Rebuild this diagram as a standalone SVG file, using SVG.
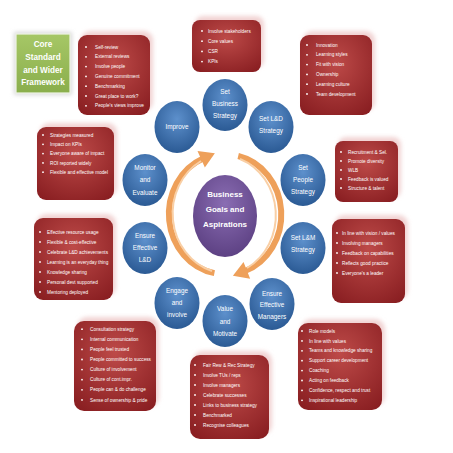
<svg xmlns="http://www.w3.org/2000/svg" width="453" height="453" viewBox="0 0 453 453">
<defs>
<radialGradient id="redG" cx="50%" cy="35%" r="75%">
<stop offset="0" stop-color="#bd4a48"/>
<stop offset="1" stop-color="#8a1f22"/>
</radialGradient>
<radialGradient id="blueG" cx="50%" cy="35%" r="70%">
<stop offset="0" stop-color="#5d90cc"/>
<stop offset="1" stop-color="#275690"/>
</radialGradient>
<radialGradient id="purpG" cx="50%" cy="35%" r="70%">
<stop offset="0" stop-color="#8a6db3"/>
<stop offset="1" stop-color="#5a3e80"/>
</radialGradient>
<linearGradient id="greenG" x1="0" y1="0" x2="0" y2="1">
<stop offset="0" stop-color="#a6c766"/>
<stop offset="1" stop-color="#8aae4c"/>
</linearGradient>
<filter id="blur" x="-20%" y="-20%" width="140%" height="140%">
<feGaussianBlur stdDeviation="2"/>
</filter>
<marker id="head" markerUnits="userSpaceOnUse" markerWidth="18" markerHeight="20" viewBox="-1 -10 18 20" refX="2" refY="0" orient="auto">
<path d="M0,-9 L15,0 L0,9 Z" fill="#eea05a"/>
</marker>
</defs>
<style>
.glow{fill:#f1d3d3;filter:url(#blur);}
.box{fill:url(#redG);}
.bt{font-family:'Liberation Sans',Arial,sans-serif;font-size:4.7px;fill:#ffffff;}
.bl{fill:#ffffff;}
.node{fill:url(#blueG);}
.nt{font-family:'Liberation Sans',Arial,sans-serif;font-size:6.4px;fill:#ffffff;text-anchor:middle;}
.ct{font-family:'Liberation Sans',Arial,sans-serif;font-size:8px;font-weight:bold;fill:#ffffff;text-anchor:middle;}
.gt{font-family:'Liberation Sans',Arial,sans-serif;font-size:8.2px;font-weight:bold;fill:#ffffff;text-anchor:middle;}
.arc{fill:none;stroke:#eea05a;stroke-width:6;}
.arcHi{fill:none;stroke:#f9cfa5;stroke-width:2;}
</style>

<rect width="453" height="453" fill="#ffffff"/>

<g id="title">
<rect x="14" y="32" width="58" height="63" fill="#d9d9d9" filter="url(#blur)"/>
<rect x="16" y="34" width="54" height="59" fill="url(#greenG)" stroke="#eef3e4" stroke-width="1.2"/>
<text class="gt" x="43" y="47">Core</text>
<text class="gt" x="43" y="60">Standard</text>
<text class="gt" x="43" y="72.5">and Wider</text>
<text class="gt" x="43" y="85">Framework</text>
</g>

<g id="connectors">
<path class="arc" d="M214.4,273.1 A55,60 0 0 1 203,158.5" marker-end="url(#head)"/>
<path class="arcHi" d="M212,271 A55,60 0 0 1 201,161"/>
<path class="arc" d="M238.2,156 A55,60 0 0 1 245,271" marker-end="url(#head)"/>
<path class="arcHi" d="M240,159 A55,60 0 0 1 247,268"/>
</g>

<g id="n-center">
<ellipse cx="225" cy="216" rx="32" ry="41" fill="url(#purpG)"/>
<text class="ct" x="225" y="197">Business</text>
<text class="ct" x="225" y="212">Goals and</text>
<text class="ct" x="225" y="227">Aspirations</text>
</g>

<g id="n-setbusiness">
<ellipse class="node" cx="225" cy="105" rx="22.5" ry="26"/>
<text class="nt" x="225" y="94">Set</text>
<text class="nt" x="225" y="106">Business</text>
<text class="nt" x="225" y="118">Strategy</text>
</g>
<g id="n-setld">
<ellipse class="node" cx="271" cy="127" rx="22.5" ry="26"/>
<text class="nt" x="271" y="121">Set L&amp;D</text>
<text class="nt" x="271" y="133">Strategy</text>
</g>
<g id="n-improve">
<ellipse class="node" cx="177" cy="127" rx="22.5" ry="26"/>
<text class="nt" x="177" y="129">Improve</text>
</g>
<g id="n-monitor">
<ellipse class="node" cx="145" cy="180" rx="22.5" ry="26"/>
<text class="nt" x="145" y="170">Monitor</text>
<text class="nt" x="145" y="182">and</text>
<text class="nt" x="145" y="195">Evaluate</text>
</g>
<g id="n-setpeople">
<ellipse class="node" cx="303" cy="180" rx="22.5" ry="26"/>
<text class="nt" x="303" y="170">Set</text>
<text class="nt" x="303" y="182">People</text>
<text class="nt" x="303" y="194">Strategy</text>
</g>
<g id="n-ensureld">
<ellipse class="node" cx="145" cy="248" rx="22.5" ry="26"/>
<text class="nt" x="145" y="238">Ensure</text>
<text class="nt" x="145" y="250">Effective</text>
<text class="nt" x="145" y="262">L&amp;D</text>
</g>
<g id="n-setlm">
<ellipse class="node" cx="303" cy="248" rx="22.5" ry="26"/>
<text class="nt" x="303" y="240">Set L&amp;M</text>
<text class="nt" x="303" y="252">Strategy</text>
</g>
<g id="n-engage">
<ellipse class="node" cx="177" cy="303" rx="22.5" ry="26"/>
<text class="nt" x="177" y="293">Engage</text>
<text class="nt" x="177" y="305">and</text>
<text class="nt" x="177" y="317">involve</text>
</g>
<g id="n-value">
<ellipse class="node" cx="225" cy="321" rx="22.5" ry="26"/>
<text class="nt" x="225" y="311">Value</text>
<text class="nt" x="225" y="324">and</text>
<text class="nt" x="225" y="336">Motivate</text>
</g>
<g id="n-managers">
<ellipse class="node" cx="272" cy="304" rx="22.5" ry="26"/>
<text class="nt" x="272" y="296">Ensure</text>
<text class="nt" x="272" y="307">Effective</text>
<text class="nt" x="272" y="319">Managers</text>
</g>

<g id="b-review">
<rect class="glow" x="81" y="31" width="72" height="80" rx="9"/>
<rect class="box" x="78" y="35" width="72" height="80" rx="9"/>
<circle class="bl" cx="86" cy="47" r="0.9"/><text class="bt" x="95" y="48.6">Self-review</text>
<circle class="bl" cx="86" cy="56.8" r="0.9"/><text class="bt" x="95" y="58.4">External reviews</text>
<circle class="bl" cx="86" cy="66.6" r="0.9"/><text class="bt" x="95" y="68.2">Involve people</text>
<circle class="bl" cx="86" cy="76.4" r="0.9"/><text class="bt" x="95" y="78">Genuine commitment</text>
<circle class="bl" cx="86" cy="86.2" r="0.9"/><text class="bt" x="95" y="87.8">Benchmarking</text>
<circle class="bl" cx="86" cy="96" r="0.9"/><text class="bt" x="95" y="97.6">Great place to work?</text>
<circle class="bl" cx="86" cy="105.8" r="0.9"/><text class="bt" x="95" y="107.4">People's views improve</text>
</g>

<g id="b-business">
<rect class="glow" x="195" y="16" width="69" height="52" rx="8"/>
<rect class="box" x="192" y="20" width="69" height="52" rx="8"/>
<circle class="bl" cx="202" cy="31" r="0.9"/><text class="bt" x="208" y="32.6">Involve stakeholders</text>
<circle class="bl" cx="202" cy="41.2" r="0.9"/><text class="bt" x="208" y="42.8">Core values</text>
<circle class="bl" cx="202" cy="51.4" r="0.9"/><text class="bt" x="208" y="53">CSR</text>
<circle class="bl" cx="202" cy="61.6" r="0.9"/><text class="bt" x="208" y="63.2">KPIs</text>
</g>

<g id="b-ld">
<rect class="glow" x="303" y="31" width="72" height="80" rx="9"/>
<rect class="box" x="300" y="35" width="72" height="80" rx="9"/>
<circle class="bl" cx="307" cy="45" r="0.9"/><text class="bt" x="316" y="46.6">Innovation</text>
<circle class="bl" cx="307" cy="54.8" r="0.9"/><text class="bt" x="316" y="56.4">Learning styles</text>
<circle class="bl" cx="307" cy="64.6" r="0.9"/><text class="bt" x="316" y="66.2">Fit with vision</text>
<circle class="bl" cx="307" cy="74.4" r="0.9"/><text class="bt" x="316" y="76">Ownership</text>
<circle class="bl" cx="307" cy="84.2" r="0.9"/><text class="bt" x="316" y="85.8">Learning culture</text>
<circle class="bl" cx="307" cy="94" r="0.9"/><text class="bt" x="316" y="95.6">Team development</text>
</g>

<g id="b-monitor">
<rect class="glow" x="40" y="123" width="77" height="73" rx="9"/>
<rect class="box" x="37" y="127" width="77" height="73" rx="9"/>
<circle class="bl" cx="43" cy="135" r="0.9"/><text class="bt" x="50" y="136.6">Strategies measured</text>
<circle class="bl" cx="43" cy="144.3" r="0.9"/><text class="bt" x="50" y="145.9">Impact on KPIs</text>
<circle class="bl" cx="43" cy="153.6" r="0.9"/><text class="bt" x="50" y="155.2">Everyone aware of impact</text>
<circle class="bl" cx="43" cy="162.9" r="0.9"/><text class="bt" x="50" y="164.5">ROI reported widely</text>
<circle class="bl" cx="43" cy="172.2" r="0.9"/><text class="bt" x="50" y="173.8">Flexible and effective model</text>
</g>

<g id="b-people">
<rect class="glow" x="338" y="137" width="63" height="61" rx="8"/>
<rect class="box" x="335" y="141" width="63" height="61" rx="8"/>
<circle class="bl" cx="341" cy="152" r="0.9"/><text class="bt" x="348" y="153.6">Recruitment &amp; Sel.</text>
<circle class="bl" cx="341" cy="161" r="0.9"/><text class="bt" x="348" y="162.6">Promote diversity</text>
<circle class="bl" cx="341" cy="170" r="0.9"/><text class="bt" x="348" y="171.6">WLB</text>
<circle class="bl" cx="341" cy="179" r="0.9"/><text class="bt" x="348" y="180.6">Feedback is valued</text>
<circle class="bl" cx="341" cy="188" r="0.9"/><text class="bt" x="348" y="189.6">Structure &amp; talent</text>
</g>

<g id="b-lm">
<rect class="glow" x="335" y="215" width="73" height="84" rx="9"/>
<rect class="box" x="332" y="219" width="73" height="84" rx="9"/>
<circle class="bl" cx="337" cy="233" r="0.9"/><text class="bt" x="342" y="234.6">In line with vision / values</text>
<circle class="bl" cx="337" cy="243" r="0.9"/><text class="bt" x="342" y="244.6">Involving managers</text>
<circle class="bl" cx="337" cy="253" r="0.9"/><text class="bt" x="342" y="254.6">Feedback on capabilities</text>
<circle class="bl" cx="337" cy="263" r="0.9"/><text class="bt" x="342" y="264.6">Reflects good practice</text>
<circle class="bl" cx="337" cy="273" r="0.9"/><text class="bt" x="342" y="274.6">Everyone's a leader</text>
</g>

<g id="b-ensureld">
<rect class="glow" x="37" y="214" width="79" height="82" rx="9"/>
<rect class="box" x="34" y="218" width="79" height="82" rx="9"/>
<circle class="bl" cx="40" cy="232" r="0.9"/><text class="bt" x="47" y="233.6">Effective resource usage</text>
<circle class="bl" cx="40" cy="242" r="0.9"/><text class="bt" x="47" y="243.6">Flexible &amp; cost-effective</text>
<circle class="bl" cx="40" cy="252" r="0.9"/><text class="bt" x="47" y="253.6">Celebrate L&amp;D achievements</text>
<circle class="bl" cx="40" cy="262" r="0.9"/><text class="bt" x="47" y="263.6">Learning is an everyday thing</text>
<circle class="bl" cx="40" cy="272" r="0.9"/><text class="bt" x="47" y="273.6">Knowledge sharing</text>
<circle class="bl" cx="40" cy="282" r="0.9"/><text class="bt" x="47" y="283.6">Personal devt supported</text>
<circle class="bl" cx="40" cy="292" r="0.9"/><text class="bt" x="47" y="293.6">Mentoring deployed</text>
</g>

<g id="b-engage">
<rect class="glow" x="77" y="317" width="82" height="90" rx="10"/>
<rect class="box" x="74" y="321" width="82" height="90" rx="10"/>
<circle class="bl" cx="82" cy="329.2" r="0.9"/><text class="bt" x="90" y="330.8">Consultation strategy</text>
<circle class="bl" cx="82" cy="339.3" r="0.9"/><text class="bt" x="90" y="340.9">Internal communication</text>
<circle class="bl" cx="82" cy="349.4" r="0.9"/><text class="bt" x="90" y="351">People feel trusted</text>
<circle class="bl" cx="82" cy="359.5" r="0.9"/><text class="bt" x="90" y="361.1">People committed to success</text>
<circle class="bl" cx="82" cy="369.6" r="0.9"/><text class="bt" x="90" y="371.2">Culture of involvement</text>
<circle class="bl" cx="82" cy="379.7" r="0.9"/><text class="bt" x="90" y="381.3">Culture of cont.impr.</text>
<circle class="bl" cx="82" cy="389.8" r="0.9"/><text class="bt" x="90" y="391.4">People can &amp; do challenge</text>
<circle class="bl" cx="82" cy="399.9" r="0.9"/><text class="bt" x="90" y="401.5">Sense of ownership &amp; pride</text>
</g>

<g id="b-value">
<rect class="glow" x="193" y="351" width="79" height="84" rx="10"/>
<rect class="box" x="190" y="355" width="79" height="84" rx="10"/>
<circle class="bl" cx="195" cy="365" r="0.9"/><text class="bt" x="203" y="366.6">Fair Rew &amp; Rec Strategy</text>
<circle class="bl" cx="195" cy="375" r="0.9"/><text class="bt" x="203" y="376.6">Involve TUs / reps</text>
<circle class="bl" cx="195" cy="385" r="0.9"/><text class="bt" x="203" y="386.6">Involve managers</text>
<circle class="bl" cx="195" cy="395" r="0.9"/><text class="bt" x="203" y="396.6">Celebrate successes</text>
<circle class="bl" cx="195" cy="405" r="0.9"/><text class="bt" x="203" y="406.6">Links to business strategy</text>
<circle class="bl" cx="195" cy="415" r="0.9"/><text class="bt" x="203" y="416.6">Benchmarked</text>
<circle class="bl" cx="195" cy="425" r="0.9"/><text class="bt" x="203" y="426.6">Recognise colleagues</text>
</g>

<g id="b-managers">
<rect class="glow" x="301" y="319" width="84" height="87" rx="10"/>
<rect class="box" x="298" y="323" width="84" height="87" rx="10"/>
<circle class="bl" cx="302" cy="331" r="0.9"/><text class="bt" x="309" y="332.6">Role models</text>
<circle class="bl" cx="302" cy="340.9" r="0.9"/><text class="bt" x="309" y="342.5">In line with values</text>
<circle class="bl" cx="302" cy="350.8" r="0.9"/><text class="bt" x="309" y="352.4">Teams and knowledge sharing</text>
<circle class="bl" cx="302" cy="360.7" r="0.9"/><text class="bt" x="309" y="362.3">Support career development</text>
<circle class="bl" cx="302" cy="370.6" r="0.9"/><text class="bt" x="309" y="372.2">Coaching</text>
<circle class="bl" cx="302" cy="380.5" r="0.9"/><text class="bt" x="309" y="382.1">Acting on feedback</text>
<circle class="bl" cx="302" cy="390.4" r="0.9"/><text class="bt" x="309" y="392">Confidence, respect and trust</text>
<circle class="bl" cx="302" cy="400.3" r="0.9"/><text class="bt" x="309" y="401.9">Inspirational leadership</text>
</g>
</svg>
